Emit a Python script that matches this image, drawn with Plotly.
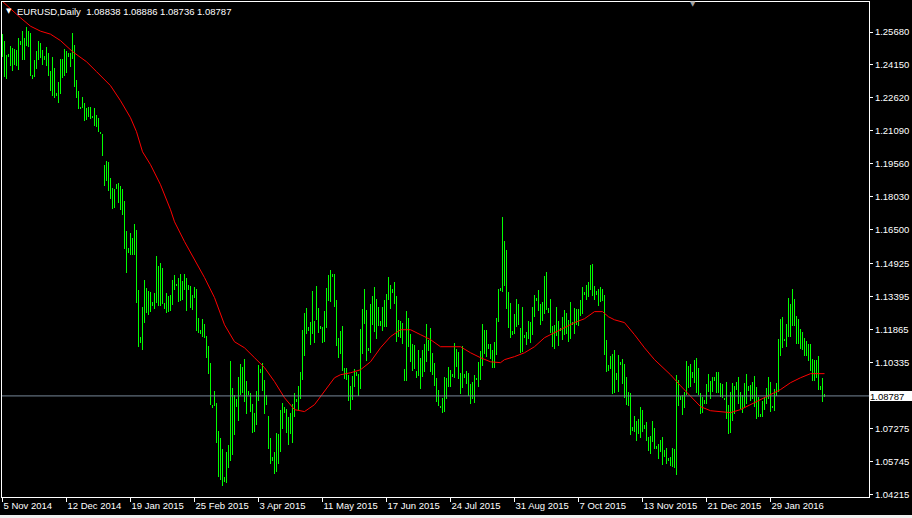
import plotly.graph_objects as go

# ---------------- data ----------------
symbol_title = "EURUSD,Daily"
last_ohlc = ["1.08838", "1.08886", "1.08736", "1.08787"]
last_close = 1.08787

highs = [
    1.2559, 1.2528, 1.2463, 1.2466, 1.2504, 1.2495, 1.2490, 1.2486, 1.2540, 1.2528,
    1.2574, 1.2540, 1.2591, 1.2571, 1.2565, 1.2370, 1.2439, 1.2481, 1.2528, 1.2518,
    1.2486, 1.2458, 1.2500, 1.2472, 1.2385, 1.2453, 1.2402, 1.2286, 1.2337, 1.2444,
    1.2445, 1.2490, 1.2481, 1.2472, 1.2472, 1.2565, 1.2509, 1.2347, 1.2296, 1.2221,
    1.2268, 1.2240, 1.2217, 1.2221, 1.2221, 1.2180, 1.2217, 1.2184, 1.2167, 1.2105,
    1.2096, 1.1952, 1.1971, 1.1966, 1.1892, 1.1845, 1.1841, 1.1864, 1.1868, 1.1855,
    1.1841, 1.1785, 1.1646, 1.1567, 1.1636, 1.1613, 1.1678, 1.1650, 1.1372, 1.1154,
    1.1293, 1.1418, 1.1381, 1.1367, 1.1362, 1.1316, 1.1358, 1.1530, 1.1483, 1.1497,
    1.1474, 1.1311, 1.1358, 1.1344, 1.1349, 1.1418, 1.1441, 1.1400, 1.1427, 1.1446,
    1.1414, 1.1446, 1.1427, 1.1395, 1.1390, 1.1349, 1.1386, 1.1376, 1.1242, 1.1186,
    1.1237, 1.1214, 1.1158, 1.1112, 1.1033, 1.0838, 1.0903, 1.0847, 1.0717, 1.0685,
    1.0634, 1.0504, 1.0620, 1.0652, 1.1042, 1.0917, 1.0884, 1.0866, 1.0968, 1.1028,
    1.1014, 1.1052, 1.0949, 1.0903, 1.0894, 1.0843, 1.0801, 1.0903, 1.1024, 1.1005,
    1.1033, 1.0954, 1.0884, 1.0787, 1.0685, 1.0597, 1.0620, 1.0708, 1.0703, 1.0815,
    1.0847, 1.0829, 1.0819, 1.0782, 1.0801, 1.0843, 1.0894, 1.0866, 1.0926, 1.0991,
    1.1186, 1.1265, 1.1288, 1.1200, 1.1223, 1.1367, 1.1228, 1.1390, 1.1288, 1.1205,
    1.1200, 1.1274, 1.1381, 1.1441, 1.1465, 1.1446, 1.1446, 1.1325, 1.1149, 1.1181,
    1.1205, 1.1010, 1.1010, 1.0977, 1.0926, 1.0973, 1.1005, 1.0991, 1.0982, 1.1191,
    1.1284, 1.1376, 1.1279, 1.1103, 1.1307, 1.1344, 1.1386, 1.1330, 1.1293, 1.1228,
    1.1293, 1.1325, 1.1353, 1.1432, 1.1395, 1.1376, 1.1409, 1.1344, 1.1232, 1.1228,
    1.1219, 1.1005, 1.1274, 1.1242, 1.1167, 1.1121, 1.1117, 1.0996, 1.1093, 1.1056,
    1.1093, 1.1121, 1.1214, 1.1140, 1.1195, 1.1079, 1.1033, 1.0963, 1.0908, 1.0833,
    1.0870, 1.0968, 1.0963, 1.1014, 1.1000, 1.0982, 1.1126, 1.1098, 1.1084, 1.0987,
    1.1112, 1.0982, 1.0996, 1.0987, 1.0935, 1.0945, 1.0977, 1.0963, 1.1038, 1.1089,
    1.1214, 1.1186, 1.1186, 1.1121, 1.1121, 1.1093, 1.1130, 1.1242, 1.1376, 1.1381,
    1.1711, 1.1599, 1.1557, 1.1362, 1.1311, 1.1181, 1.1260, 1.1330, 1.1307, 1.1195,
    1.1293, 1.1163, 1.1177, 1.1228, 1.1223, 1.1293, 1.1349, 1.1335, 1.1372, 1.1307,
    1.1316, 1.1437, 1.1455, 1.1288, 1.1330, 1.1205, 1.1209, 1.1293, 1.1228, 1.1195,
    1.1247, 1.1279, 1.1265, 1.1232, 1.1316, 1.1223, 1.1288, 1.1284, 1.1284, 1.1325,
    1.1386, 1.1362, 1.1395, 1.1409, 1.1488, 1.1492, 1.1390, 1.1367, 1.1376, 1.1386,
    1.1376, 1.1349, 1.1140, 1.1024, 1.1065, 1.1075, 1.1093, 1.0987, 1.1070, 1.1038,
    1.1052, 1.1028, 1.0968, 1.0898, 1.0894, 1.0736, 1.0787, 1.0764, 1.0773, 1.0829,
    1.0815, 1.0745, 1.0759, 1.0689, 1.0694, 1.0764, 1.0731, 1.0648, 1.0657, 1.0674,
    1.0689, 1.0629, 1.0638, 1.0592, 1.0597, 1.0638, 1.0634, 1.0977, 1.0954, 1.0880,
    1.0884, 1.0898, 1.1042, 1.1019, 1.1028, 1.0991, 1.1047, 1.1056, 1.1010, 1.0894,
    1.0875, 1.0861, 1.0935, 1.0982, 1.0949, 1.0968, 1.0968, 1.0991, 1.0991, 1.0940,
    1.0935, 1.0870, 1.0945, 1.0838, 1.0898, 1.0940, 1.0926, 1.0945, 1.0968, 1.0898,
    1.0884, 1.0940, 1.0982, 1.0926, 1.0931, 1.0945, 1.0973, 1.0921, 1.0875, 1.0796,
    1.0857, 1.0875, 1.0917, 1.0968, 1.0945, 1.0833, 1.0912, 1.0940, 1.1144, 1.1237,
    1.1247, 1.1144, 1.1214, 1.1335, 1.1307, 1.1376, 1.1330, 1.1251, 1.1237, 1.1191,
    1.1177, 1.1149, 1.1135, 1.1121, 1.1121, 1.1052, 1.1047, 1.1047, 1.1065, 1.0926,
    1.0963, 1.08886,
]

lows = [
    1.2450, 1.2357, 1.2348, 1.2450, 1.2408, 1.2385, 1.2416, 1.2408, 1.2390, 1.2509,
    1.2436, 1.2439, 1.2504, 1.2497, 1.2365, 1.2351, 1.2360, 1.2394, 1.2439, 1.2447,
    1.2416, 1.2436, 1.2408, 1.2365, 1.2292, 1.2272, 1.2263, 1.2272, 1.2240, 1.2282,
    1.2353, 1.2362, 1.2376, 1.2453, 1.2404, 1.2445, 1.2311, 1.2260, 1.2212, 1.2212,
    1.2215, 1.2156, 1.2161, 1.2175, 1.2164, 1.2167, 1.2134, 1.2125, 1.2102, 1.2093,
    1.1994, 1.1855, 1.1878, 1.1831, 1.1794, 1.1748, 1.1752, 1.1841, 1.1776, 1.1743,
    1.1720, 1.1562, 1.1451, 1.1543, 1.1534, 1.1534, 1.1534, 1.1311, 1.1107, 1.1126,
    1.1093, 1.1219, 1.1265, 1.1256, 1.1270, 1.1298, 1.1284, 1.1311, 1.1298, 1.1298,
    1.1307, 1.1284, 1.1265, 1.1266, 1.1274, 1.1302, 1.1372, 1.1387, 1.1315, 1.1318,
    1.1325, 1.1372, 1.1271, 1.1372, 1.1288, 1.1279, 1.1331, 1.1178, 1.1172, 1.1167,
    1.1154, 1.1149, 1.1056, 1.0982, 1.0838, 1.0821, 1.0830, 1.0662, 1.0504, 1.0490,
    1.0462, 1.0481, 1.0476, 1.0546, 1.0578, 1.0606, 1.0699, 1.0829, 1.0764, 1.0884,
    1.0894, 1.0852, 1.0796, 1.0884, 1.0806, 1.0708, 1.0713, 1.0745, 1.0857, 1.0987,
    1.0903, 1.0796, 1.0838, 1.0634, 1.0564, 1.0578, 1.0518, 1.0527, 1.0564, 1.0620,
    1.0726, 1.0801, 1.0708, 1.0652, 1.0703, 1.0662, 1.0779, 1.0852, 1.0815, 1.0866,
    1.0954, 1.1065, 1.1167, 1.1181, 1.1117, 1.1167, 1.1126, 1.1232, 1.1172, 1.1191,
    1.1126, 1.1130, 1.1195, 1.1321, 1.1316, 1.1432, 1.1293, 1.1112, 1.1056, 1.1075,
    1.0996, 1.0959, 1.0954, 1.0857, 1.0815, 1.0861, 1.0921, 1.0973, 1.0880, 1.0912,
    1.1075, 1.1214, 1.1042, 1.1089, 1.1079, 1.1209, 1.1177, 1.1144, 1.1205, 1.1205,
    1.1181, 1.1200, 1.1200, 1.1325, 1.1284, 1.1358, 1.1307, 1.1130, 1.1154, 1.1149,
    1.1121, 1.0949, 1.0949, 1.1107, 1.1038, 1.0996, 1.1005, 1.0963, 1.0973, 1.0912,
    1.0968, 1.0991, 1.1038, 1.1089, 1.0991, 1.0977, 1.0926, 1.0852, 1.0833, 1.0824,
    1.0801, 1.0806, 1.0866, 1.0921, 1.0921, 1.0968, 1.0963, 1.1014, 1.0959, 1.0889,
    1.0917, 1.0963, 1.0935, 1.0880, 1.0843, 1.0866, 1.0847, 1.0954, 1.0921, 1.0954,
    1.1019, 1.1075, 1.1061, 1.1098, 1.1052, 1.1010, 1.1010, 1.1070, 1.1223, 1.1367,
    1.1362, 1.1390, 1.1284, 1.1195, 1.1149, 1.1163, 1.1167, 1.1200, 1.1209, 1.1079,
    1.1084, 1.1149, 1.1117, 1.1144, 1.1126, 1.1163, 1.1247, 1.1321, 1.1274, 1.1209,
    1.1228, 1.1260, 1.1279, 1.1265, 1.1172, 1.1107, 1.1098, 1.1158, 1.1112, 1.1181,
    1.1140, 1.1163, 1.1167, 1.1130, 1.1144, 1.1209, 1.1167, 1.1209, 1.1205, 1.1251,
    1.1260, 1.1349, 1.1325, 1.1339, 1.1372, 1.1344, 1.1325, 1.1349, 1.1298, 1.1316,
    1.1321, 1.1070, 1.0991, 1.0996, 1.1005, 1.0889, 1.0894, 1.0954, 1.0898, 1.1024,
    1.0935, 1.0870, 1.0838, 1.0833, 1.0699, 1.0717, 1.0713, 1.0671, 1.0703, 1.0685,
    1.0713, 1.0726, 1.0671, 1.0624, 1.0610, 1.0666, 1.0634, 1.0634, 1.0587, 1.0618,
    1.0559, 1.0597, 1.0564, 1.0578, 1.0555, 1.0550, 1.0546, 1.0513, 1.0833, 1.0861,
    1.0792, 1.0824, 1.0884, 1.0917, 1.0921, 1.0963, 1.0940, 1.0894, 1.0884, 1.0796,
    1.0801, 1.0843, 1.0843, 1.0898, 1.0866, 1.0898, 1.0949, 1.0894, 1.0894, 1.0875,
    1.0870, 1.0861, 1.0773, 1.0703, 1.0708, 1.0764, 1.0796, 1.0908, 1.0843, 1.0819,
    1.0801, 1.0824, 1.0843, 1.0903, 1.0857, 1.0866, 1.0829, 1.0773, 1.0782, 1.0782,
    1.0782, 1.0815, 1.0843, 1.0866, 1.0806, 1.0824, 1.0810, 1.0880, 1.0898, 1.1065,
    1.1103, 1.1135, 1.1107, 1.1154, 1.1154, 1.1205, 1.1205, 1.1121, 1.1121, 1.1098,
    1.1093, 1.1065, 1.1065, 1.1042, 1.0996, 1.0949, 1.0949, 1.0963, 1.0908, 1.0908,
    1.0852, 1.08736,
]

# moving average (red line), read at sample bars
ma_index = [0, 7, 9, 14, 19, 24, 29, 35, 42, 47, 54, 59, 64, 67, 70, 74, 79, 84, 86, 91,
            96, 101, 106, 111, 116, 121, 126, 131, 136, 141, 146, 151, 156, 161, 166, 169,
            174, 179, 184, 189, 194, 199, 204, 209, 214, 219, 224, 229, 234, 239, 244, 249,
            251, 256, 261, 266, 271, 276, 281, 286, 291, 296, 300, 303, 306, 311, 316, 321,
            326, 331, 334, 339, 344, 349, 354, 359, 364, 369, 374, 379, 384, 389, 394, 399,
            404, 411]
ma_values = [1.2710, 1.2648, 1.2634, 1.2595, 1.2572, 1.2558, 1.2528, 1.2477, 1.2430, 1.2384,
             1.2319, 1.2249, 1.2170, 1.2105, 1.2012, 1.1952, 1.1859, 1.1743, 1.1687, 1.1595,
             1.1511, 1.1428, 1.1335, 1.1209, 1.1130, 1.1102, 1.1056, 1.1010, 1.0945, 1.0870,
             1.0815, 1.0806, 1.0838, 1.0898, 1.0963, 1.0977, 1.0986, 1.1000, 1.1037, 1.1102,
             1.1154, 1.1186, 1.1186, 1.1163, 1.1140, 1.1107, 1.1107, 1.1107, 1.1079, 1.1056,
             1.1037, 1.1033, 1.1047, 1.1061, 1.1079, 1.1107, 1.1149, 1.1172, 1.1195, 1.1219,
             1.1237, 1.1270, 1.1270, 1.1246, 1.1232, 1.1219, 1.1163, 1.1102, 1.1047, 1.1005,
             1.0977, 1.0926, 1.0875, 1.0829, 1.0810, 1.0806, 1.0801, 1.0815, 1.0838, 1.0861,
             1.0884, 1.0908, 1.0940, 1.0963, 1.0982, 1.0982]

date_tick_index = [0, 32, 64, 96, 128, 160, 192, 224, 256, 288, 320, 352, 384]
date_tick_labels = ["5 Nov 2014", "12 Dec 2014", "19 Jan 2015", "25 Feb 2015", "3 Apr 2015",
                    "11 May 2015", "17 Jun 2015", "24 Jul 2015", "31 Aug 2015", "7 Oct 2015",
                    "13 Nov 2015", "21 Dec 2015", "29 Jan 2016"]
price_tick_values = [1.25680, 1.24150, 1.22620, 1.21090, 1.19560, 1.18030, 1.16500,
                     1.14925, 1.13395, 1.11865, 1.10335, 1.07275, 1.05745, 1.04215]
price_tick_labels = ["%.5f" % v for v in price_tick_values]

# ---------------- figure ----------------
FONT = "Liberation Sans"
bar_index = list(range(len(highs)))
ranges = [h - l for h, l in zip(highs, lows)]

fig = go.Figure()
fig.add_trace(go.Bar(
    x=bar_index, y=ranges, base=lows, width=0.5,
    marker=dict(color="#00ff00", line=dict(width=0)),
    hoverinfo="skip", showlegend=False,
))
fig.add_trace(go.Scatter(
    x=ma_index, y=ma_values, mode="lines",
    line=dict(color="#ff0000", width=1),
    hoverinfo="skip", showlegend=False,
))

fig.add_shape(type="line", xref="paper", x0=0, x1=1, yref="y", y0=last_close, y1=last_close,
              line=dict(color="#778899", width=1), layer="above")
# bottom window strip
fig.add_shape(type="rect", xref="paper", x0=-0.01, x1=1.06, yref="paper", y0=-0.0364, y1=-0.06,
              fillcolor="#f0f0f0", line=dict(width=0), layer="above")

fig.add_annotation(xref="paper", yref="y", x=1, y=last_close, xanchor="left", yanchor="middle",
                   xshift=1, text="%.5f" % last_close, showarrow=False,
                   bgcolor="#ffffff", font=dict(family=FONT, size=9.5, color="#000000"),
                   width=42, height=10, align="left", borderpad=0, borderwidth=0)

fig.add_annotation(xref="paper", yref="paper", x=0, y=1, xanchor="center", yanchor="middle",
                   xshift=6.5, yshift=-9, text="▼", showarrow=False,
                   font=dict(family="DejaVu Sans", size=7, color="#ffffff"),
                   borderpad=0, borderwidth=0)
fig.add_annotation(xref="paper", yref="paper", x=0, y=1, xanchor="left", yanchor="middle",
                   xshift=15, yshift=-9,
                   text=symbol_title + "\u00a0\u00a0" + " ".join(last_ohlc), showarrow=False,
                   font=dict(family=FONT, size=9.5, color="#ffffff"),
                   borderpad=0, borderwidth=0)
# chart shift marker
fig.add_annotation(xref="paper", yref="paper", x=(693 - 2) / 867, y=1, xanchor="center",
                   yanchor="middle", yshift=-2, text="▼", showarrow=False,
                   font=dict(family="DejaVu Sans", size=7, color="#a0a0a0"),
                   borderpad=0, borderwidth=0)

fig.update_layout(
    width=912, height=518,
    margin=dict(l=2, r=43, t=2, b=21, pad=0),
    paper_bgcolor="#000000", plot_bgcolor="#000000",
    showlegend=False, bargap=0,
    font=dict(family=FONT, size=9.5, color="#ffffff"),
    xaxis=dict(
        range=[-0.25, 433.25], showgrid=False, zeroline=False,
        showline=True, mirror=True, linecolor="#ffffff", linewidth=1,
        ticks="outside", ticklen=4, tickwidth=1, tickcolor="#ffffff",
        tickvals=date_tick_index, ticktext=date_tick_labels,
        ticklabelposition="outside right",
        tickfont=dict(family=FONT, size=9.5, color="#ffffff"),
        fixedrange=True,
    ),
    yaxis=dict(
        range=[1.04094, 1.27073], side="right", showgrid=False, zeroline=False,
        showline=True, mirror=True, linecolor="#ffffff", linewidth=1,
        ticks="outside", ticklen=3, tickwidth=1, tickcolor="#ffffff",
        tickvals=price_tick_values, ticktext=price_tick_labels,
        tickfont=dict(family=FONT, size=9.5, color="#ffffff"),
        fixedrange=True,
    ),
)

fig.write_html(
    "out.html",
    config={"displayModeBar": False, "staticPlot": True},
    post_script="document.body.style.margin='0';document.body.style.overflow='hidden';",
)
